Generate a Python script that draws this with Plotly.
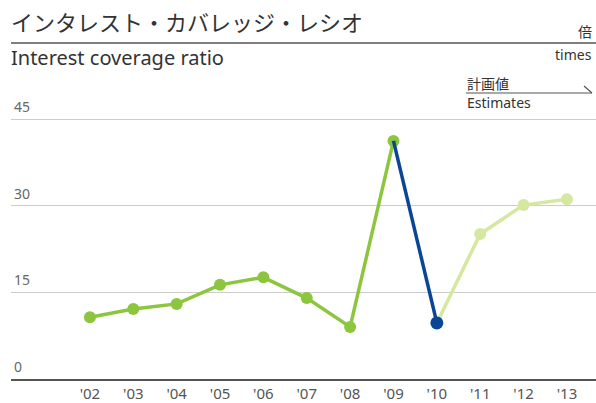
import plotly.graph_objects as go

years = ["'02", "'03", "'04", "'05", "'06", "'07", "'08", "'09", "'10", "'11", "'12", "'13"]
ratio = [10.7, 12.1, 13.0, 16.3, 17.6, 14.0, 9.0, 41.2, 9.7, 25.1, 30.1, 31.1]
y_ticks = [0, 15, 30, 45]

x_idx = list(range(len(years)))

GREEN = "#8cc63f"
BLUE = "#0b4597"
LIGHT = "#d6e79f"

W, H = 596, 403
L, R, T, B = 11, 0, 116, 24
Y_TOP = 45 * (H - B - T) / (379 - 119)  # headroom so the 45 gridline is drawn


def px(x):
    return (x - L) / (W - L - R)


def py(y):
    return (H - B - y) / (H - T - B)


fig = go.Figure()

# estimates '10 -> '13
fig.add_trace(go.Scatter(
    x=x_idx[8:], y=ratio[8:], mode="lines+markers",
    line=dict(color=LIGHT, width=3.5),
    marker=dict(size=12, color=LIGHT),
    hoverinfo="skip", showlegend=False))

# results '02 -> '09
fig.add_trace(go.Scatter(
    x=x_idx[:8], y=ratio[:8], mode="lines+markers",
    line=dict(color=GREEN, width=3.5),
    marker=dict(size=12, color=GREEN),
    hoverinfo="skip", showlegend=False))

# '09 -> '10
fig.add_trace(go.Scatter(
    x=x_idx[7:9], y=ratio[7:9], mode="lines",
    line=dict(color=BLUE, width=3.5),
    hoverinfo="skip", showlegend=False))
fig.add_trace(go.Scatter(
    x=x_idx[8:9], y=ratio[8:9], mode="markers",
    marker=dict(size=13, color=BLUE),
    hoverinfo="skip", showlegend=False))

# y tick labels sit above the gridlines, on the left
tick_notes = [
    dict(text=str(v), xref="paper", yref="y", x=0.002, y=v,
         xanchor="left", yanchor="bottom", yshift=1, showarrow=False,
         font=dict(size=14, color="#666"))
    for v in y_ticks
]

fig.update_layout(
    width=W, height=H,
    margin=dict(l=L, r=R, t=T, b=B),
    paper_bgcolor="white", plot_bgcolor="white",
    font=dict(family="Noto Sans, Open Sans, sans-serif", color="#555"),
    xaxis=dict(
        range=[-1.82, 11.67],
        tickmode="array", tickvals=x_idx, ticktext=years,
        showgrid=False, zeroline=False,
        showline=True, linecolor="#555", linewidth=1.5,
        ticks="", tickfont=dict(size=15, color="#555"),
    ),
    yaxis=dict(
        range=[0, Y_TOP],
        tickmode="array", tickvals=y_ticks,
        showgrid=True, gridcolor="#cccccc", gridwidth=1,
        zeroline=False, showline=False, ticks="",
        showticklabels=False,
    ),
    shapes=[
        dict(type="line", xref="paper", yref="paper",
             x0=px(11), x1=px(596), y0=py(43), y1=py(43),
             line=dict(color="#555", width=1.5)),
        dict(type="line", xref="paper", yref="paper",
             x0=px(466), x1=px(592), y0=py(93), y1=py(93),
             line=dict(color="#555", width=1.2)),
        dict(type="line", xref="paper", yref="paper",
             x0=px(584), x1=px(592), y0=py(86), y1=py(93),
             line=dict(color="#555", width=1.2)),
    ],
    annotations=tick_notes + [
        dict(text="インタレスト・カバレッジ・レシオ", xref="paper", yref="paper",
             x=px(9), y=py(21), xanchor="left", yanchor="middle", showarrow=False,
             font=dict(family="Noto Sans CJK JP", size=22, color="#333")),
        dict(text="Interest coverage ratio", xref="paper", yref="paper",
             x=px(9), y=py(58), xanchor="left", yanchor="middle", showarrow=False,
             font=dict(family="Noto Sans, Open Sans", size=20, color="#333")),
        dict(text="倍", xref="paper", yref="paper",
             x=px(594), y=py(31), xanchor="right", yanchor="middle", showarrow=False,
             font=dict(family="Noto Sans CJK JP", size=14, color="#333")),
        dict(text="times", xref="paper", yref="paper",
             x=px(594), y=py(55), xanchor="right", yanchor="middle", showarrow=False,
             font=dict(family="Noto Sans, Open Sans", size=14, color="#333")),
        dict(text="計画値", xref="paper", yref="paper",
             x=px(465), y=py(83), xanchor="left", yanchor="middle", showarrow=False,
             font=dict(family="Noto Sans CJK JP", size=14, color="#333")),
        dict(text="Estimates", xref="paper", yref="paper",
             x=px(465), y=py(103), xanchor="left", yanchor="middle", showarrow=False,
             font=dict(family="Noto Sans, Open Sans", size=14, color="#333")),
    ],
)

# drop the default 8px body margin so the figure fills the window
fig.write_html("out.html", config={"displayModeBar": False},
               post_script="document.body.style.margin='0';")
